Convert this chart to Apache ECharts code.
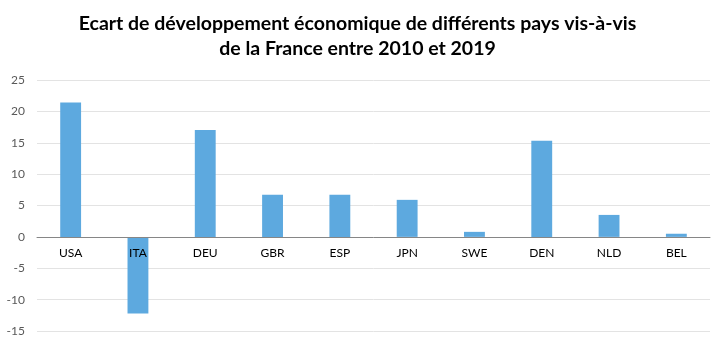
<!DOCTYPE html>
<html><head><meta charset="utf-8">
<script src="https://cdn.jsdelivr.net/npm/echarts@6/dist/echarts.min.js"></script>
<style>html,body{margin:0;padding:0;background:#fff}#c{width:715px;height:348px}</style>
</head><body><div id="c"></div>
<script>
var categories = ['USA','ITA','DEU','GBR','ESP','JPN','SWE','DEN','NLD','BEL'];
var values = [21.4, -12.2, 17.05, 6.7, 6.7, 5.9, 0.8, 15.3, 3.5, 0.5];
var yMin = -15, yMax = 25, yStep = 5;
var titleText = 'Ecart de développement économique de différents pays vis-à-vis\nde la France entre 2010 et 2019';

var W = 715, H = 348, gTop = 80, gBottom = 17;
var gridH = H - gTop - gBottom;
// place the category axis on the zero line
var zeroOffset = -gridH * (0 - yMin) / (yMax - yMin);

var chart = echarts.init(document.getElementById('c'), null, {renderer:'canvas'});
chart.setOption({
  animation:false,
  title:{text:titleText,left:'center',top:6,itemGap:0,
    textStyle:{fontFamily:'Lato',fontWeight:'bold',fontSize:19.5,color:'#000',lineHeight:25}},
  grid:{left:37,right:5,top:gTop,bottom:gBottom,containLabel:false},
  xAxis:{type:'category',data:categories,z:10,position:'bottom',offset:zeroOffset,
    axisLine:{onZero:false,lineStyle:{color:'#868686',width:1}},
    axisTick:{show:false},
    axisLabel:{fontFamily:'Lato',fontSize:12,color:'#000',margin:10}},
  yAxis:{type:'value',min:yMin,max:yMax,interval:yStep,
    axisLine:{show:false},axisTick:{show:false},
    splitLine:{lineStyle:{color:'#e3e3e3',width:1}},
    axisLabel:{fontFamily:'Lato',fontSize:12,color:'#595959',margin:12}},
  series:[{type:'bar',data:values,barWidth:'31%',itemStyle:{color:'#5DA9DF'}}]
});
</script></body></html>
